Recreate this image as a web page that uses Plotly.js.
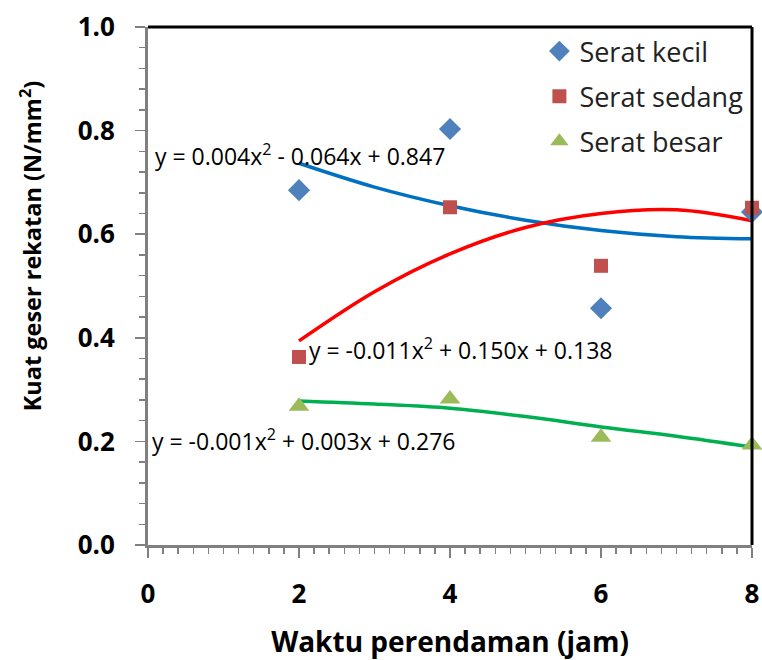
<!DOCTYPE html>
<html>
<head>
<meta charset="utf-8">
<script src="https://cdn.plot.ly/plotly-3.0.1.min.js"></script>
<style>html,body{margin:0;padding:0;background:#fff;}#chart{width:762px;height:660px;}</style>
</head>
<body>
<div id="chart"></div>
<script>
// Measured points
const waktu = [2, 4, 6, 8];
const seratKecil = [0.685, 0.803, 0.457, 0.643];
const seratSedang = [0.363, 0.652, 0.539, 0.651];
const seratBesar = [0.268, 0.282, 0.208, 0.193];

// Trendline values
const trendX = [2, 3, 4, 5, 6, 7, 8];
const trendKecil = [0.737, 0.691, 0.655, 0.627, 0.607, 0.595, 0.591];
const trendSedang = [0.394, 0.489, 0.562, 0.613, 0.640, 0.647, 0.626];
const trendBesar = [0.278, 0.272, 0.264, 0.248, 0.228, 0.210, 0.189];

const seriesNames = ['Serat kecil', 'Serat sedang', 'Serat besar'];
const equations = [
  'y = 0.004x<sup>2</sup> - 0.064x + 0.847',
  'y = -0.011x<sup>2</sup> + 0.150x + 0.138',
  'y = -0.001x<sup>2</sup> + 0.003x + 0.276'
];
const xTicks = [0, 2, 4, 6, 8];
const yTicks = [0, 0.2, 0.4, 0.6, 0.8, 1.0];
const xTitle = 'Waktu perendaman (jam)';
const yTitle = 'Kuat geser rekatan (N/mm<sup>2</sup>)';

const FONT = '"Open Sans", Lato, sans-serif';

const line = (y, color) => ({
  x: trendX, y: y, mode: 'lines', type: 'scatter', showlegend: false,
  line: {color: color, width: 3.5, shape: 'spline'}, hoverinfo: 'skip', cliponaxis: false
});
const pts = (y, name, sym, color, size, grp) => ({
  x: waktu, y: y, mode: 'markers', type: 'scatter', name: name, legendgroup: grp,
  marker: {symbol: sym, color: color, size: size}, cliponaxis: false
});

const data = [
  line(trendKecil, '#0070C0'),
  line(trendSedang, '#FF0000'),
  line(trendBesar, '#00B050'),
  pts(seratKecil, seriesNames[0], 'diamond', '#4F81BD', 17, 'a'),
  pts(seratSedang, seriesNames[1], 'square', '#C0504D', 14, 'b'),
  pts(seratBesar, seriesNames[2], 'triangle-up', '#9BBB59', 18, 'c')
];

const layout = {
  width: 762, height: 660,
  margin: {l: 148, r: 10, t: 27, b: 115},
  paper_bgcolor: '#fff', plot_bgcolor: '#fff',
  font: {family: FONT, color: '#000'},
  showlegend: true,
  legend: {
    x: 0.648, y: 1.0, xanchor: 'left', yanchor: 'top',
    font: {family: FONT, size: 27, color: '#222'},
    bgcolor: 'rgba(0,0,0,0)', tracegroupgap: 7, itemsizing: 'trace'
  },
  xaxis: {
    range: [0, 8], tickvals: xTicks, ticktext: xTicks.map(String),
    showgrid: false, zeroline: false,
    showline: true, linecolor: '#808080', linewidth: 3,
    ticks: 'outside', ticklen: 10, tickcolor: '#808080', tickwidth: 1.5,
    ticklabelstandoff: 14,
    minor: {dtick: 0.2, ticks: 'outside', ticklen: 6, tickcolor: '#808080', tickwidth: 1.5, showgrid: false},
    tickfont: {family: FONT, size: 26, color: '#000', weight: 'bold'},
    title: {text: '<b>' + xTitle + '</b>', font: {family: FONT, size: 28, color: '#000'}, standoff: 35}
  },
  yaxis: {
    range: [0, 1], tickvals: yTicks, tickformat: '.1f',
    showgrid: false, zeroline: false,
    showline: true, linecolor: '#808080', linewidth: 3,
    ticks: 'outside', ticklen: 10, tickcolor: '#808080', tickwidth: 1.5,
    ticklabelstandoff: 15,
    minor: {dtick: 0.04, ticks: 'outside', ticklen: 6, tickcolor: '#808080', tickwidth: 1.5, showgrid: false},
    tickfont: {family: FONT, size: 26, color: '#000', weight: 'bold'}
  },
  shapes: [
    {type: 'line', xref: 'paper', yref: 'paper', x0: 0, x1: 1, y0: 1, y1: 1, line: {color: '#000', width: 3}},
    {type: 'line', xref: 'paper', yref: 'paper', x0: 1, x1: 1, y0: 0, y1: 1, line: {color: '#000', width: 3}}
  ],
  annotations: [
    {x: -0.195, y: 0.577, xref: 'paper', yref: 'paper', text: '<b>' + yTitle + '</b>', textangle: -90, showarrow: false, xanchor: 'center', yanchor: 'middle', font: {family: FONT, size: 23.5, color: '#000'}},
    {x: 0.07, y: 0.753, xref: 'x', yref: 'y', text: equations[0], showarrow: false, xanchor: 'left', yanchor: 'middle', font: {family: FONT, size: 23, color: '#000'}},
    {x: 2.1, y: 0.378, xref: 'x', yref: 'y', text: equations[1], showarrow: false, xanchor: 'left', yanchor: 'middle', font: {family: FONT, size: 23, color: '#000'}},
    {x: 0.03, y: 0.203, xref: 'x', yref: 'y', text: equations[2], showarrow: false, xanchor: 'left', yanchor: 'middle', font: {family: FONT, size: 23, color: '#000'}}
  ]
};

Plotly.newPlot('chart', data, layout, {displayModeBar: false, staticPlot: true});
</script>
</body>
</html>
